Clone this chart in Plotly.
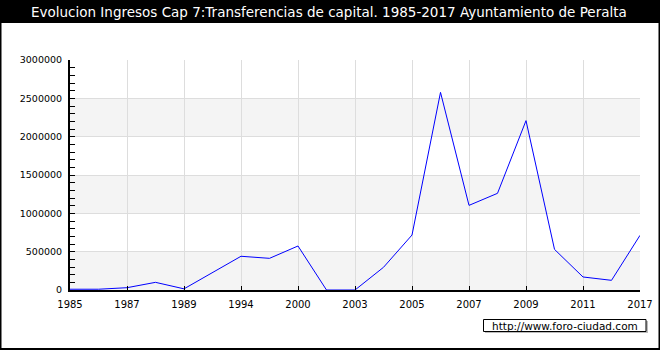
import plotly.graph_objects as go

years = ["1985", "1986", "1987", "1988", "1989", "1990", "1994", "1995", "2000", "2002",
         "2003", "2004", "2005", "2006", "2007", "2008", "2009", "2010", "2011", "2012", "2017"]
values = [10000, 10000, 30000, 100000, 15000, 230000, 440000, 413000, 574000, 0,
          0, 296000, 717000, 2578000, 1104000, 1261000, 2209000, 530000, 170000, 126000, 713000]
shown_labels = ["1985", "1987", "1989", "1994", "2000", "2003", "2005", "2007", "2009", "2011", "2017"]
y_ticks = [0, 500000, 1000000, 1500000, 2000000, 2500000, 3000000]

title = "Evolucion Ingresos Cap 7:Transferencias de capital. 1985-2017 Ayuntamiento de Peralta"

W, H = 660, 350
L, R, T, B = 70, 20, 60, 60
PW, PH = W - L - R, H - T - B


def px(x):
    return (x - L) / PW


def py(y):
    return (H - B - y) / PH


fig = go.Figure()
fig.add_trace(go.Scatter(x=years, y=values, mode="lines",
                         line=dict(color="#0000ff", width=1), hoverinfo="x+y"))

shapes = []
for i in range(len(y_ticks) - 1):
    if i % 2 == 0:
        shapes.append(dict(type="rect", xref="paper", yref="y", x0=0, x1=1,
                           y0=y_ticks[i], y1=y_ticks[i + 1], fillcolor="#f4f4f4",
                           line=dict(width=0), layer="below"))
# title bar
shapes.append(dict(type="rect", xref="paper", yref="paper", x0=px(0), x1=px(W),
                   y0=py(23), y1=py(0), fillcolor="black", line=dict(width=0)))
# outer border
shapes.append(dict(type="rect", xref="paper", yref="paper", x0=px(0.5), x1=px(W - 0.5),
                   y0=py(H - 1), y1=py(0), fillcolor="rgba(0,0,0,0)",
                   line=dict(color="black", width=2)))
# watermark shadow
shapes.append(dict(type="rect", xref="paper", yref="paper", x0=px(485), x1=px(648),
                   y0=py(333), y1=py(321), fillcolor="#bbbbbb", line=dict(width=0)))
# watermark box
shapes.append(dict(type="rect", xref="paper", yref="paper", x0=px(483.5), x1=px(646),
                   y0=py(331.5), y1=py(319.5), fillcolor="white",
                   line=dict(color="black", width=1)))

fig.update_layout(
    width=W, height=H, autosize=False,
    margin=dict(l=L, r=R, t=T, b=B, pad=0),
    paper_bgcolor="white", plot_bgcolor="white",
    showlegend=False,
    font=dict(family="DejaVu Sans", size=9, color="black"),
    shapes=shapes,
    xaxis=dict(type="category", range=[0, len(years) - 1], tickmode="array",
               tickvals=shown_labels, ticktext=shown_labels,
               showgrid=True, gridcolor="#dddddd", gridwidth=1,
               ticks="inside", ticklen=4, tickcolor="black",
               showline=True, linecolor="black", linewidth=2,
               zeroline=False, tickfont=dict(size=10), ticklabelstandoff=4,
               automargin=False),
    yaxis=dict(range=[0, 3000000], tickmode="array", tickvals=y_ticks,
               ticktext=[str(v) for v in y_ticks],
               showgrid=True, gridcolor="#dddddd", gridwidth=1,
               ticks="inside", ticklen=5, tickcolor="black",
               minor=dict(dtick=100000, ticks="inside", ticklen=5, tickcolor="black", showgrid=False),
               showline=True, linecolor="black", linewidth=2,
               zeroline=False, tickfont=dict(size=9.5), ticklabelstandoff=4,
               automargin=False),
    annotations=[
        dict(text=title, xref="paper", yref="paper", x=px(329), y=py(12),
             xanchor="center", yanchor="middle", showarrow=False,
             font=dict(family="DejaVu Sans", size=13.5, color="white")),
        dict(text="http://www.foro-ciudad.com", xref="paper", yref="paper",
             x=px(564.5), y=py(325.5), xanchor="center", yanchor="middle", showarrow=False,
             font=dict(family="DejaVu Sans", size=10.5, color="black")),
    ],
)

fig.write_html("out.html", config={"responsive": False})
